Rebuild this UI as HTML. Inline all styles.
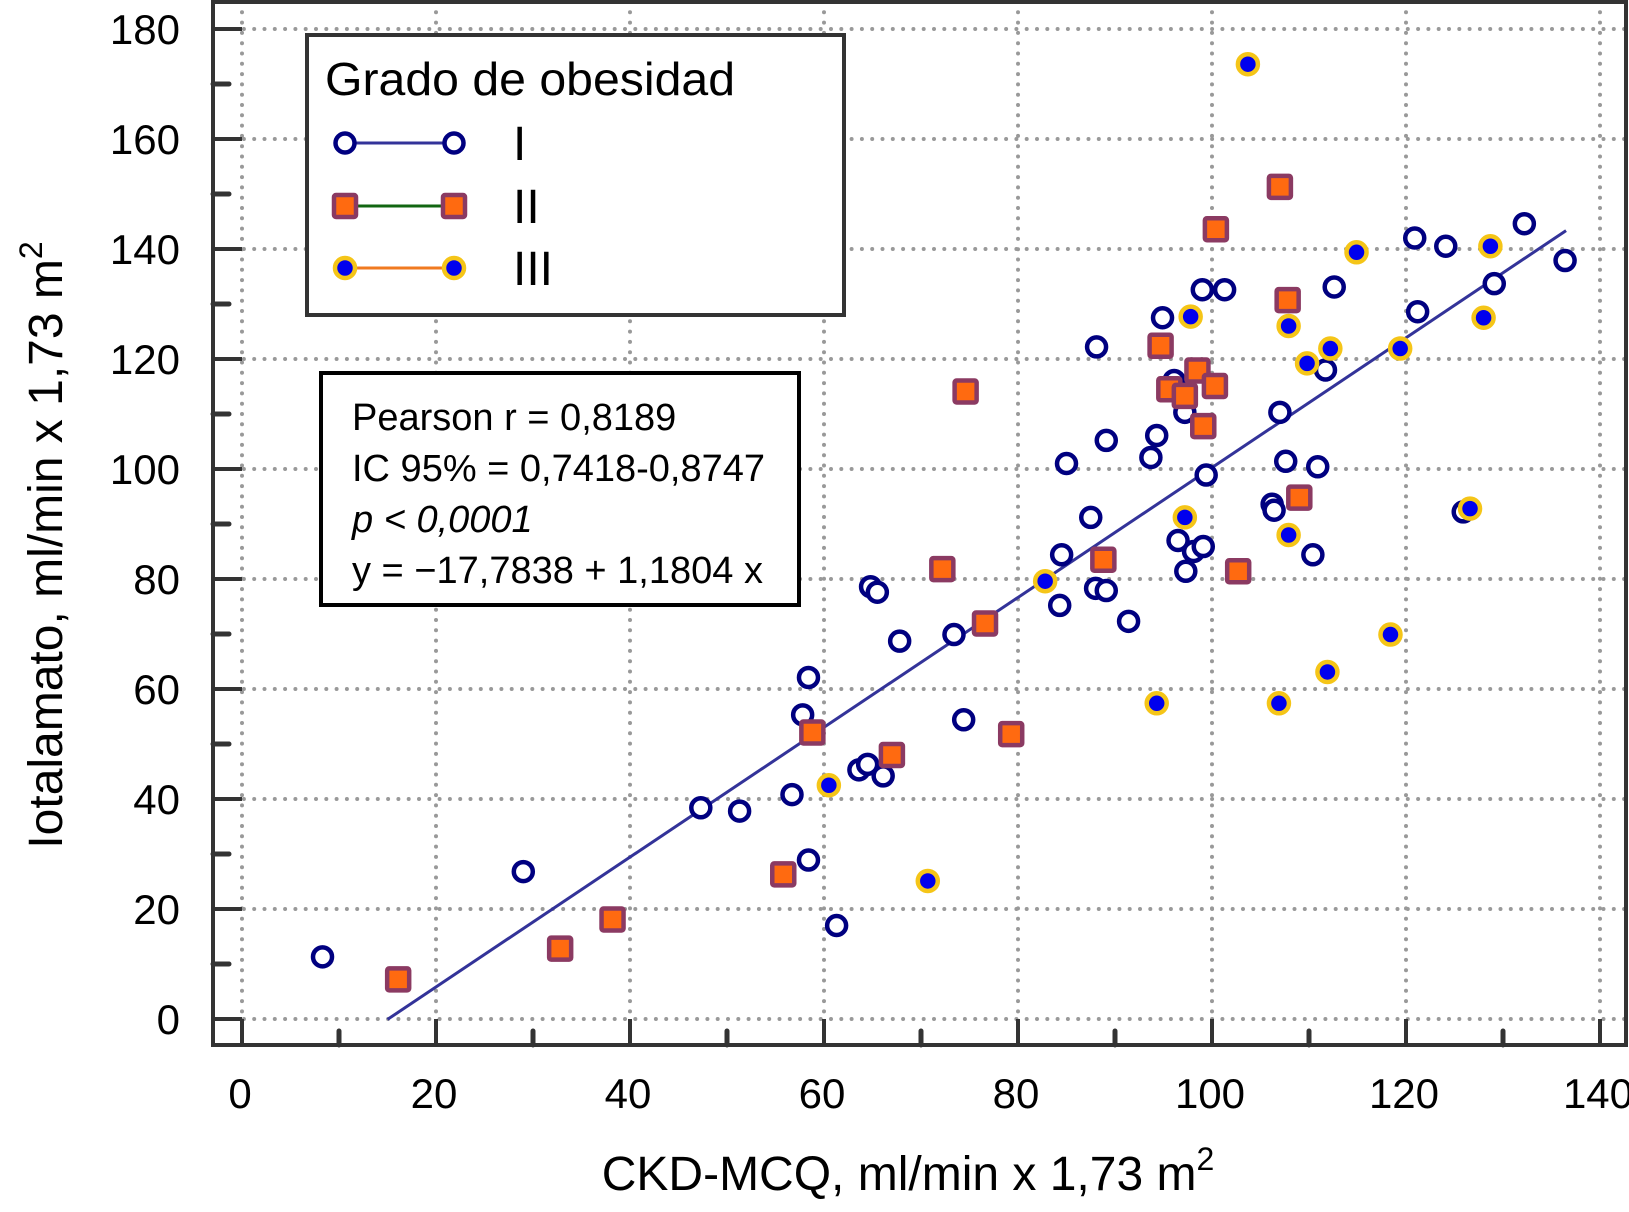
<!DOCTYPE html>
<html><head><meta charset="utf-8"><style>
html,body{margin:0;padding:0;background:#fff;}
svg{display:block;font-family:"Liberation Sans",Arial,sans-serif;}
</style></head><body>
<svg id="chart" width="1629" height="1212" viewBox="0 0 1629 1212" xmlns="http://www.w3.org/2000/svg">
<g id="grid"></g>
<g id="axes"></g>
<g id="marks"></g>
<g>
  <rect x="307" y="35" width="537" height="280" fill="#fff" stroke="#333" stroke-width="4"/>
  <text x="325" y="95" font-size="46" textLength="410" lengthAdjust="spacingAndGlyphs">Grado de obesidad</text>
  <g>
    <line x1="345" y1="143" x2="454" y2="143" stroke="#333399" stroke-width="3"/>
    <circle cx="345" cy="143" r="9.5" fill="#fff" stroke="#000080" stroke-width="4.5"/>
    <circle cx="454" cy="143" r="9.5" fill="#fff" stroke="#000080" stroke-width="4.5"/>
    <text x="513" y="160" font-size="48">I</text>
  </g>
  <g>
    <line x1="345" y1="206" x2="454" y2="206" stroke="#116611" stroke-width="3"/>
    <rect x="334" y="195" width="22" height="22" rx="2" fill="#ff6a10" stroke="#8b3a62" stroke-width="4.5"/>
    <rect x="443" y="195" width="22" height="22" rx="2" fill="#ff6a10" stroke="#8b3a62" stroke-width="4.5"/>
    <text x="513" y="223" font-size="48">II</text>
  </g>
  <g>
    <line x1="345" y1="268" x2="454" y2="268" stroke="#f07a20" stroke-width="3"/>
    <circle cx="345" cy="268" r="10" fill="#0000ee" stroke="#f5c518" stroke-width="4.5"/>
    <circle cx="454" cy="268" r="10" fill="#0000ee" stroke="#f5c518" stroke-width="4.5"/>
    <text x="513" y="285" font-size="48">III</text>
  </g>
</g>
<g>
  <rect x="321" y="373" width="478" height="232" fill="#fff" stroke="#000" stroke-width="4"/>
  <text x="352" y="430" font-size="38">Pearson r = 0,8189</text>
  <text x="352" y="481" font-size="38">IC 95% = 0,7418-0,8747</text>
  <text x="352" y="532" font-size="38" font-style="italic">p &lt; 0,0001</text>
  <text x="352" y="583" font-size="38">y = −17,7838 + 1,1804 x</text>
</g>
<text x="908" y="1190" font-size="48" text-anchor="middle">CKD-MCQ, ml/min x 1,73 m<tspan dy="-20" font-size="32">2</tspan></text>
<text transform="translate(62,545) rotate(-90)" font-size="48" text-anchor="middle">Iotalamato, ml/min x 1,73 m<tspan dy="-20" font-size="32">2</tspan></text>
</svg>
<script>
const xTicks = [0,20,40,60,80,100,120,140];
const yTicks = [0,20,40,60,80,100,120,140,160,180];
const xMinor = [10,30,50,70,90,110,130];
const yMinor = [10,30,50,70,90,110,130,150,170];
const g1X = [8.3,29.0,47.3,51.3,56.7,57.8,58.4,58.4,61.3,63.6,64.5,66.1,64.8,65.5,67.8,73.4,74.4,84.3,84.5,85.0,87.5,88.1,88.0,89.1,89.1,91.4,93.7,94.3,94.9,96.1,97.2,96.5,97.3,98.1,99.1,99.4,99.0,101.3,106.2,106.4,107.0,107.6,110.4,110.9,111.7,112.6,120.9,121.2,124.1,125.9,129.1,132.2,136.4];
const g1Y = [11.3,26.8,38.4,37.8,40.8,55.3,62.1,28.9,17.0,45.3,46.3,44.2,78.6,77.6,68.7,69.9,54.4,75.2,84.4,101.0,91.2,122.2,78.3,77.9,105.2,72.3,102.1,106.1,127.5,116.1,110.3,87.0,81.4,85.0,85.9,98.9,132.6,132.6,93.6,92.5,110.3,101.4,84.4,100.4,118.0,133.1,142.0,128.6,140.5,92.2,133.7,144.6,137.9];
const g2X = [16.1,32.8,38.2,55.8,58.8,67.0,72.2,74.6,76.6,79.3,88.8,94.7,95.6,97.2,98.5,99.1,100.3,100.4,102.7,107.0,107.8,109.0];
const g2Y = [7.2,12.8,18.1,26.3,52.1,48.0,81.8,114.1,71.9,51.8,83.5,122.4,114.5,113.3,117.9,107.8,115.1,143.6,81.4,151.3,130.7,94.8];
const g3X = [103.7,114.9,128.7,128.0,97.8,107.9,112.2,119.4,109.8,97.2,107.9,126.6,82.8,118.4,111.9,94.3,106.9,60.5,70.7];
const g3Y = [173.6,139.4,140.5,127.5,127.7,126.0,121.9,121.9,119.2,91.2,88.0,92.8,79.6,69.9,63.1,57.4,57.4,42.5,25.1];
const regIntercept = -17.7838, regSlope = 1.1804;
const regRange = [15, 136.5];

const NS = 'http://www.w3.org/2000/svg';
const X = v => 242 + v * 9.7;
const Y = v => 1019 - v * 5.5;
const L = 213, R = 1626, T = 2, B = 1045;
function mk(tag, attrs, parent) {
  const e = document.createElementNS(NS, tag);
  for (const k in attrs) e.setAttribute(k, attrs[k]);
  parent.appendChild(e);
  return e;
}
const grid = document.getElementById('grid');
const axes = document.getElementById('axes');
const marks = document.getElementById('marks');
const dot = {stroke:'#999', 'stroke-width':4, 'stroke-linecap':'round', 'stroke-dasharray':'0 10.3', fill:'none'};
xTicks.forEach(v => {
  const e = mk('line', Object.assign({x1:X(v), y1:T, x2:X(v), y2:B}, dot), grid);
  
  
});
yTicks.forEach(v => {
  const e = mk('line', Object.assign({x1:L, y1:Y(v), x2:R, y2:Y(v)}, dot), grid);
  
  
});
const frame = mk('rect', {x:L, y:T, width:R-L, height:B-T, fill:'none', stroke:'#333', 'stroke-width':4}, axes);


xTicks.forEach(v => {
  const t = mk('line', {x1:X(v), y1:B, x2:X(v), y2:Y(0), stroke:'#333', 'stroke-width':4}, axes);
  
  
  const lb = mk('text', {x:X(v)-2, y:1108, 'font-size':42, 'text-anchor':'middle'}, axes);
  lb.textContent = v;
  
  
});
xMinor.forEach(v => {
  const t = mk('line', {x1:X(v), y1:B, x2:X(v), y2:B-14, stroke:'#333', 'stroke-width':5, 'stroke-linecap':'round'}, axes);
  
  
});
yTicks.forEach(v => {
  const t = mk('line', {x1:L, y1:Y(v), x2:X(0), y2:Y(v), stroke:'#333', 'stroke-width':4}, axes);
  
  
  const lb = mk('text', {x:180, y:Y(v)+15, 'font-size':42, 'text-anchor':'end'}, axes);
  lb.textContent = v;
  
  
});
yMinor.forEach(v => {
  const t = mk('line', {x1:L, y1:Y(v), x2:L+16, y2:Y(v), stroke:'#333', 'stroke-width':5, 'stroke-linecap':'round'}, axes);
  
  
});
const reg = mk('line', {x1:X(regRange[0]), y1:Y(regIntercept+regSlope*regRange[0]), x2:X(regRange[1]), y2:Y(regIntercept+regSlope*regRange[1]), stroke:'#333399', 'stroke-width':3}, marks);


g1X.forEach((v, i) => {
  const c = mk('circle', {cx:X(v), cy:Y(g1Y[i]), r:9.5, fill:'#fff', stroke:'#000080', 'stroke-width':4.5}, marks);
  
  
});
g2X.forEach((v, i) => {
  const s = mk('rect', {x:X(v)-11, y:Y(g2Y[i])-11, width:22, height:22, rx:2, fill:'#ff6a10', stroke:'#8b3a62', 'stroke-width':4.5}, marks);
  
  
});
g3X.forEach((v, i) => {
  const c = mk('circle', {cx:X(v), cy:Y(g3Y[i]), r:10, fill:'#0000ee', stroke:'#f5c518', 'stroke-width':4.5}, marks);
  
  
});
</script>
</body></html>
